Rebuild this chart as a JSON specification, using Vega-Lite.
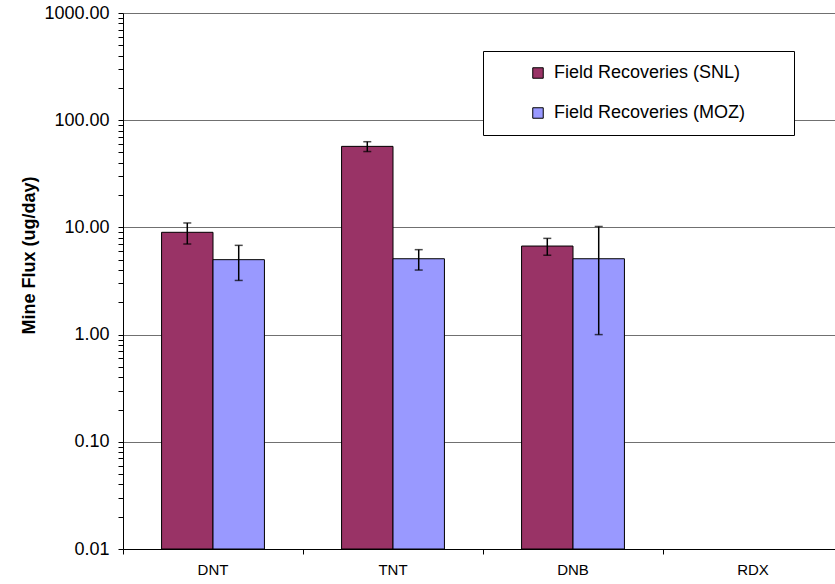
{
  "$schema": "https://vega.github.io/schema/vega-lite/v6.json",
  "autosize": "none",
  "width": 720,
  "height": 536,
  "padding": {"left": 123, "top": 13, "right": 0, "bottom": 35},
  "background": "white",
  "config": {
    "view": {"stroke": null},
    "font": "Liberation Sans",
    "axis": {"labelFont": "Liberation Sans", "titleFont": "Liberation Sans", "labelColor": "black", "titleColor": "black", "domainColor": "black", "tickColor": "black"}
  },
  "data": {
    "values": [
      {"compound": "DNT", "series": "Field Recoveries (SNL)", "flux": 9.0, "lo": 7.0, "hi": 11.0},
      {"compound": "DNT", "series": "Field Recoveries (MOZ)", "flux": 5.0, "lo": 3.2, "hi": 6.8},
      {"compound": "TNT", "series": "Field Recoveries (SNL)", "flux": 57.0, "lo": 51.0, "hi": 63.0},
      {"compound": "TNT", "series": "Field Recoveries (MOZ)", "flux": 5.1, "lo": 4.0, "hi": 6.2},
      {"compound": "DNB", "series": "Field Recoveries (SNL)", "flux": 6.7, "lo": 5.5, "hi": 7.9},
      {"compound": "DNB", "series": "Field Recoveries (MOZ)", "flux": 5.1, "lo": 1.0, "hi": 10.2},
      {"compound": "RDX", "series": "Field Recoveries (SNL)", "flux": null, "lo": null, "hi": null},
      {"compound": "RDX", "series": "Field Recoveries (MOZ)", "flux": null, "lo": null, "hi": null}
    ]
  },
  "encoding": {
    "x": {
      "field": "compound",
      "type": "nominal",
      "sort": null,
      "scale": {"domain": ["DNT", "TNT", "DNB", "RDX"], "paddingInner": 0, "paddingOuter": 0},
      "axis": {
        "title": null,
        "labelAngle": 0,
        "labelFontSize": 15,
        "bandPosition": 0,
        "tickSize": 5,
        "labelPadding": 8,
        "domainWidth": 1
      }
    },
    "xOffset": {
      "field": "series",
      "type": "nominal",
      "scale": {"domain": ["Field Recoveries (SNL)", "Field Recoveries (MOZ)"], "paddingOuter": 0.75, "paddingInner": 0}
    }
  },
  "layer": [
    {
      "mark": {"type": "bar", "stroke": "black", "strokeWidth": 1},
      "encoding": {
        "y": {
          "field": "flux",
          "type": "quantitative",
          "scale": {"type": "log", "domain": [0.01, 1000], "nice": false},
          "axis": {
            "title": "Mine Flux (ug/day)",
            "titleFontSize": 18,
            "titleFontWeight": "bold",
            "titleAngle": -90,
            "titleX": -94,
            "titleY": 242,
            "titleAlign": "center",
            "titleBaseline": "middle",
            "labelFontSize": 18,
            "labelPadding": 9,
            "tickSize": 5,
            "values": [0.01, 0.02, 0.03, 0.04, 0.05, 0.06, 0.07, 0.08, 0.09, 0.1, 0.2, 0.3, 0.4, 0.5, 0.6, 0.7, 0.8, 0.9, 1, 2, 3, 4, 5, 6, 7, 8, 9, 10, 20, 30, 40, 50, 60, 70, 80, 90, 100, 200, 300, 400, 500, 600, 700, 800, 900, 1000],
            "labelExpr": "abs(log(datum.value)/LN10 - round(log(datum.value)/LN10)) < 0.001 ? format(datum.value, '.2f') : ''",
            "grid": true,
            "gridColor": "#707070",
            "gridWidth": 1,
            "gridOpacity": {"condition": {"test": "abs(log(datum.value)/LN10 - round(log(datum.value)/LN10)) < 0.001 && datum.value > 0.011", "value": 1}, "value": 0}
          }
        },
        "y2": {"datum": 0.01},
        "color": {
          "field": "series",
          "type": "nominal",
          "scale": {"domain": ["Field Recoveries (SNL)", "Field Recoveries (MOZ)"], "range": ["#993366", "#9999ff"]},
          "legend": {
            "title": null,
            "orient": "none",
            "legendX": 360,
            "legendY": 38,
            "fillColor": "white",
            "strokeColor": "black",
            "padding": 13,
            "symbolType": "square",
            "symbolSize": 110,
            "symbolStrokeColor": "black",
            "symbolStrokeWidth": 1,
            "symbolOffset": 33,
            "labelOffset": 7,
            "labelFontSize": 18,
            "labelFont": "Liberation Sans",
            "labelColor": "black",
            "labelLimit": 0,
            "rowPadding": 22,
            "labelExpr": "datum.label + '\u00a0\u00a0\u00a0\u00a0\u00a0\u00a0\u00a0\u200b'"
          }
        }
      }
    },
    {
      "mark": {"type": "rule", "color": "black", "strokeWidth": 1.5},
      "encoding": {
        "y": {"field": "lo", "type": "quantitative"},
        "y2": {"field": "hi"}
      }
    },
    {
      "mark": {"type": "tick", "color": "black", "size": 8, "thickness": 1.5},
      "encoding": {"y": {"field": "lo", "type": "quantitative"}}
    },
    {
      "mark": {"type": "tick", "color": "black", "size": 8, "thickness": 1.5},
      "encoding": {"y": {"field": "hi", "type": "quantitative"}}
    }
  ]
}
